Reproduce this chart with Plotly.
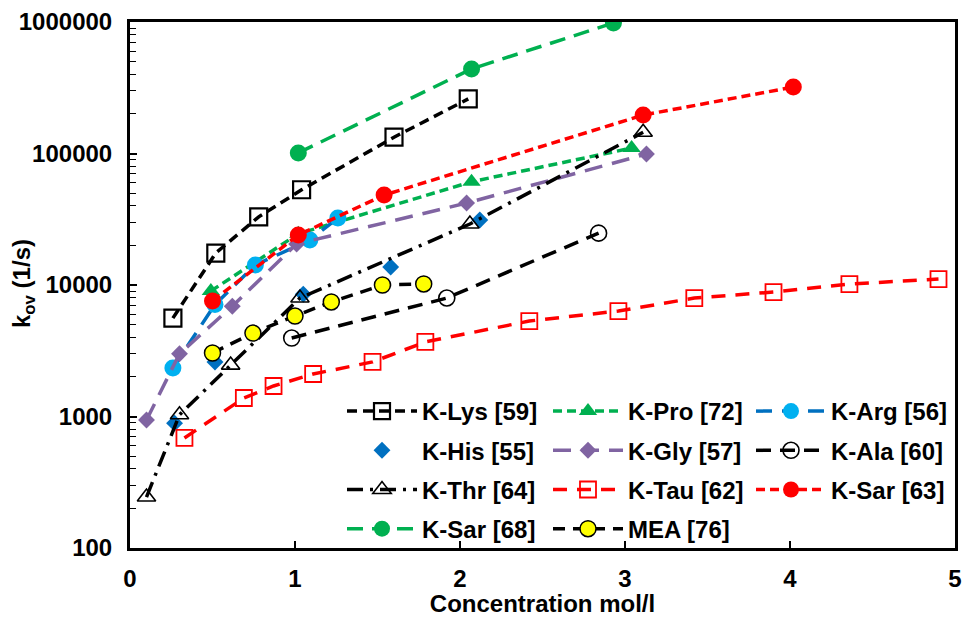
import plotly.graph_objects as go

# ---- data ----
lys_x = [0.26, 0.52, 0.78, 1.04, 1.60, 2.05]
lys_y = [5600, 17500, 33000, 53000, 133000, 260000]

pro_x = [0.49, 1.02, 2.07, 3.04]
pro_y = [9000, 24500, 61000, 110000]

arg_x = [0.26, 0.515, 0.76, 1.09, 1.26]
arg_y = [2340, 7100, 14200, 22000, 32300]

his_x = [0.27, 0.515, 1.05, 1.58, 2.12]
his_y = [890, 2600, 8500, 13700, 31200]

gly_x = [0.10, 0.30, 0.62, 1.01, 2.04, 3.13]
gly_y = [940, 3000, 6900, 20500, 42000, 99000]

ala_x = [0.98, 1.92, 2.84]
ala_y = [3950, 7960, 24800]

thr_x = [0.10, 0.30, 0.61, 1.03, 2.06, 3.11]
thr_y = [244, 1030, 2460, 7960, 29100, 145000]

tau_x = [0.33, 0.69, 0.87, 1.11, 1.47, 1.79, 2.42, 2.96, 3.42, 3.90, 4.36, 4.90]
tau_y = [687, 1383, 1706, 2105, 2600, 3690, 5320, 6340, 7960, 8840, 10170, 11100]

sar63_x = [0.50, 1.02, 1.54, 3.11, 4.02]
sar63_y = [7560, 24000, 48300, 196000, 320000]

sar68_x = [1.02, 2.07, 2.93]
sar68_y = [101000, 440000, 983000]

mea_x = [0.50, 0.745, 1.00, 1.22, 1.53, 1.78]
mea_y = [3040, 4310, 5810, 7430, 10000, 10180]

names = ["K-Lys [59]", "K-Pro [72]", "K-Arg [56]", "K-His [55]", "K-Gly [57]",
         "K-Ala [60]", "K-Thr [64]", "K-Tau [62]", "K-Sar [63]", "K-Sar [68]", "MEA [76]"]

y_tickvals = [100, 1000, 10000, 100000, 1000000]
y_ticktext = ["100", "1000", "10000", "100000", "1000000"]
x_tickvals = [0, 1, 2, 3, 4, 5]

y_title = "k<sub>ov</sub> (1/s)"
x_title = "Concentration mol/l"

GREEN = "#00B050"
LBLUE = "#00B0F0"
BLUE = "#0070C0"
PURPLE = "#8064A2"
RED = "#FF0000"
BLACK = "#000000"

FONT = "Liberation Sans, Arial, sans-serif"
FS = 24
LW = 3.5

fig = go.Figure()


def add(x, y, name, legend, mode, lcolor, dash, symbol, msize, mcolor, mline_color, mline_w):
    fig.add_trace(go.Scatter(
        x=x, y=y, name=name, mode=mode, legend=legend, legendgroup=name,
        line=dict(color=lcolor, width=LW, dash=dash),
        marker=dict(symbol=symbol, size=msize, color=mcolor,
                    line=dict(color=mline_color, width=mline_w)),
    ))


add(lys_x, lys_y, names[0], "legend", "lines+markers", BLACK, "10px,6px", "square-open", 17, BLACK, BLACK, 2.2)
add(pro_x, pro_y, names[1], "legend2", "lines+markers", GREEN, "9px,5px", "triangle-up", 16, GREEN, GREEN, 0)
add(arg_x, arg_y, names[2], "legend3", "lines+markers", BLUE, "16px,10px", "circle", 17, LBLUE, LBLUE, 0)
add(his_x, his_y, names[3], "legend", "markers", BLUE, "solid", "diamond", 13, BLUE, BLUE, 0)
add(gly_x, gly_y, names[4], "legend2", "lines+markers", PURPLE, "18px,10px", "diamond", 13, PURPLE, PURPLE, 0)
add(ala_x, ala_y, names[5], "legend3", "lines+markers", BLACK, "15px,9px", "circle-open", 16, BLACK, BLACK, 1.6)
add(thr_x, thr_y, names[6], "legend", "lines+markers", BLACK, "16px,7px,3px,7px", "triangle-up-open", 16, BLACK, BLACK, 1.6)
add(tau_x, tau_y, names[7], "legend2", "lines+markers", RED, "14px,10px", "square-open", 16, RED, RED, 1.8)
add(sar63_x, sar63_y, names[8], "legend3", "lines+markers", RED, "9px,5px", "circle", 17, RED, RED, 0)
add(sar68_x, sar68_y, names[9], "legend", "lines+markers", GREEN, "16px,9px", "circle", 17, GREEN, GREEN, 0)
add(mea_x, mea_y, names[10], "legend2", "lines+markers", BLACK, "12px,8px", "circle", 16, "#FFFF00", BLACK, 1.5)

# body margin is removed by the post script, so page pixels == figure pixels
W, H = 962, 617
L = 130
T = 22
R = W - 955
B = H - 548
pw = W - L - R
ph = H - T - B


def px2paper_x(px):
    return (px - L) / pw


def px2paper_y(py):
    return (H - B - py) / ph


legend_common = dict(
    orientation="v", yanchor="top", xanchor="left",
    bgcolor="rgba(0,0,0,0)", borderwidth=0,
    font=dict(family=FONT, size=FS, color="black", weight="bold"),
    itemwidth=70, traceorder="grouped", tracegroupgap=5,
    itemsizing="trace",
)
top = px2paper_y(389)

fig.update_layout(
    width=W, height=H,
    margin=dict(l=L, r=R, t=T, b=B, autoexpand=False),
    paper_bgcolor="white", plot_bgcolor="white",
    font=dict(family=FONT, size=FS, color="black", weight="bold"),
    showlegend=True,
    legend=dict(x=px2paper_x(342), y=top, **legend_common),
    legend2=dict(x=px2paper_x(548), y=top, **legend_common),
    legend3=dict(x=px2paper_x(751), y=top, **legend_common),
    xaxis=dict(
        range=[0, 5], tickmode="array", tickvals=x_tickvals,
        ticks="inside", ticklen=7, tickwidth=1.5, tickcolor="black",
        showline=True, linecolor="black", linewidth=3, mirror=True,
        showgrid=False, zeroline=False,
        tickfont=dict(family=FONT, size=FS, color="black", weight="bold"),
        ticklabelstandoff=7,
        title=dict(text=x_title, standoff=2,
                   font=dict(family=FONT, size=FS, color="black", weight="bold")),
    ),
    yaxis=dict(
        type="log", range=[2, 6], tickmode="array",
        tickvals=y_tickvals, ticktext=y_ticktext,
        ticks="inside", ticklen=7, tickwidth=1.5, tickcolor="black",
        minor=dict(ticks="inside", ticklen=6, tickwidth=1.2, tickcolor="black",
                   dtick="D1", showgrid=False),
        showline=True, linecolor="black", linewidth=3, mirror=True,
        showgrid=False, zeroline=False,
        tickfont=dict(family=FONT, size=FS, color="black", weight="bold"),
        ticklabelstandoff=10,
    ),
    annotations=[dict(
        text=y_title, xref="paper", yref="paper",
        x=px2paper_x(23), y=px2paper_y(284), xanchor="center", yanchor="middle",
        textangle=-90, showarrow=False,
        font=dict(family=FONT, size=FS, color="black", weight="bold"),
    )],
)

fig.write_html(
    "out.html",
    config={"displayModeBar": False},
    post_script="document.body.style.margin='0';document.body.style.overflow='hidden';",
)
